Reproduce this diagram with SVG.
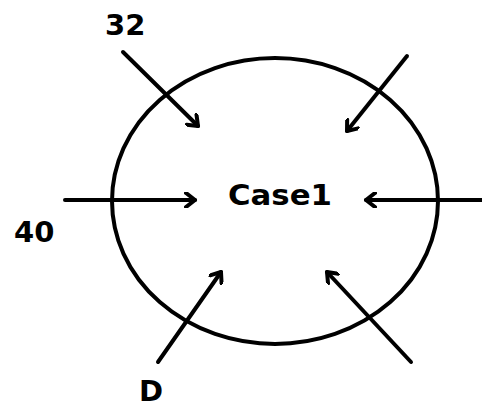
<svg xmlns="http://www.w3.org/2000/svg" width="482" height="410" viewBox="0 0 482 410">
<defs>
<marker id="ah" markerWidth="16" markerHeight="16" refX="11" refY="8" orient="auto" markerUnits="userSpaceOnUse">
<path d="M2,1 L11,8 L2,15" fill="none" stroke="#000" stroke-width="4" stroke-linecap="round" stroke-linejoin="round"/>
</marker>
<style>
.c{fill:none;stroke:#000;stroke-width:4;stroke-linecap:round;marker-end:url(#ah)}
.t{font-family:"DejaVu Sans",Verdana,sans-serif;font-weight:bold;font-size:29px;fill:#000}
</style>
</defs>
<rect width="482" height="410" fill="#fff"/>
<g id="case1">
<ellipse cx="275" cy="201" rx="163" ry="143" fill="none" stroke="#000" stroke-width="4"/>
<text class="t" x="228" y="205" textLength="104" lengthAdjust="spacingAndGlyphs">Case1</text>
</g>
<g id="connectors">
<line class="c" x1="123" y1="52" x2="198" y2="126"/>
<line class="c" x1="65" y1="200" x2="195" y2="200"/>
<line class="c" x1="158" y1="362" x2="221" y2="272"/>
<line class="c" x1="407" y1="56" x2="347" y2="131"/>
<line class="c" x1="482" y1="200" x2="366" y2="200"/>
<line class="c" x1="411" y1="362" x2="327" y2="272"/>
</g>
<g id="label-32"><text class="t" x="105" y="35">32</text></g>
<g id="label-40"><text class="t" x="14" y="242">40</text></g>
<g id="label-D"><text class="t" x="139" y="401">D</text></g>
</svg>
